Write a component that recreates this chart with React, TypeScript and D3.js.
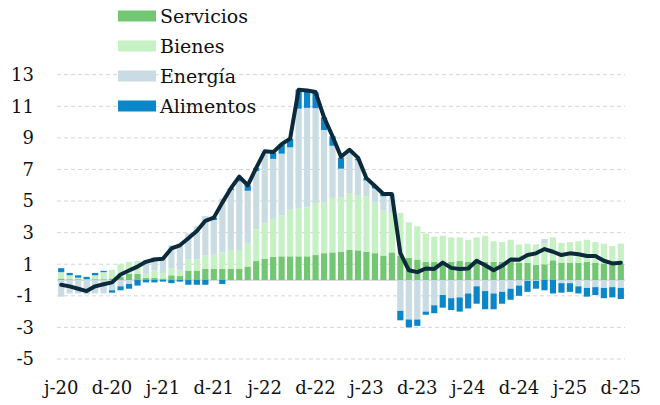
import React from 'react';
import * as d3 from 'd3';

// monthly, jun-2020 .. dic-2025
const keys = ['Servicios', 'Bienes', 'Energía', 'Alimentos'];
const colors = ['#72c772', '#c6f1c4', '#c9dce4', '#0a86c9'];

const servicios = [
  0.1, 0.05, 0.05, 0.0, 0.05, 0.05, 0.1, 0.2, 0.4, 0.4,
  0.15, 0.15, 0.1, 0.3, 0.25, 0.6, 0.6, 0.7, 0.7, 0.7,
  0.7, 0.7, 0.85, 1.2, 1.35, 1.47, 1.5, 1.5, 1.5, 1.5,
  1.58, 1.7, 1.75, 1.8, 1.9, 1.88, 1.8, 1.7, 1.55, 1.75,
  1.55, 1.4, 1.3, 1.15, 1.15, 1.15, 1.15, 1.2, 1.15, 1.25,
  1.15, 1.15, 1.15, 1.15, 1.1, 1.1, 0.95, 1.0, 1.25, 1.1,
  1.1, 1.1, 1.15, 1.1, 1.05, 1.05, 1.05,
];
const bienes = [
  0.4, 0.25, 0.1, 0.05, 0.25, 0.45, 0.55, 0.8, 0.75, 0.75,
  0.25, 0.45, 0.35, 0.45, 0.4, 0.7, 0.7, 0.85, 0.9, 1.05,
  1.2, 1.2, 1.45, 2.0, 2.25, 2.4, 2.6, 2.95, 3.05, 3.1,
  3.3, 3.2, 3.45, 3.45, 3.6, 3.5, 3.5, 3.2, 2.85, 2.5,
  2.7, 2.25, 2.1, 1.8, 1.6, 1.65, 1.55, 1.5, 1.4, 1.45,
  1.65, 1.3, 1.25, 1.4, 1.15, 1.2, 1.3, 1.3, 1.45, 1.25,
  1.3, 1.35, 1.4, 1.3, 1.25, 1.1, 1.25,
];
const energia = [
  -1.05, -0.85, -0.85, -0.9, -0.85, -0.85, -0.65, -0.4, -0.25, 0.05,
  0.9, 0.85, 1.0, 1.45, 1.65, 1.65, 2.1, 2.5, 2.2, 3.4,
  3.8, 4.35, 3.35, 3.7, 4.55, 3.8, 3.9, 3.95, 6.3, 6.3,
  6.0, 4.6, 3.3, 1.8, 2.6, 2.2, 1.0, 0.9, 0.9, 1.2,
  -1.95, -2.5, -2.5, -2.0, -1.6, -0.95, -1.15, -1.1, -0.85, -0.4,
  -0.7, -0.85, -0.75, -0.55, -0.35, -0.05, -0.05, 0.3, 0.0, -0.2,
  -0.2, -0.4, -0.5, -0.45, -0.5, -0.45, -0.5,
];
const alimentos = [
  0.25, 0.15, 0.15, 0.15, 0.15, 0.08, -0.15, -0.25, -0.3, -0.35,
  -0.15, -0.15, -0.1, -0.2, -0.1, -0.3, -0.3, -0.3, 0.15, -0.25,
  0.1, 0.25, 0.35, 0.2, 0.0, 0.4, 0.6, 0.55, 1.2, 1.1,
  1.0, 0.8, 0.6, 0.7, 0.1, 0.1, 0.15, 0.15, 0.15, 0.0,
  -0.6, -0.5, -0.4, -0.2, -0.5, -0.8, -0.75, -0.9, -0.95, -1.1,
  -1.15, -1.0, -0.75, -0.7, -0.65, -0.7, -0.5, -0.65, -0.85, -0.6,
  -0.55, -0.45, -0.55, -0.5, -0.65, -0.65, -0.7,
];
const total = [
  -0.3, -0.4, -0.55, -0.7, -0.4, -0.27, -0.15, 0.35, 0.6, 0.85,
  1.15, 1.3, 1.35, 2.0, 2.2, 2.65, 3.1, 3.75, 3.95, 4.9,
  5.8, 6.55, 6.0, 7.1, 8.15, 8.1, 8.6, 8.95, 12.05, 12.0,
  11.9, 10.3, 9.1, 7.8, 8.25, 7.75, 6.45, 5.95, 5.45, 5.45,
  1.7, 0.62, 0.5, 0.73, 0.7, 1.1, 0.77, 0.7, 0.73, 1.22,
  0.94, 0.62, 0.9, 1.3, 1.28, 1.58, 1.69, 1.96, 1.79, 1.58,
  1.69, 1.63, 1.52, 1.52, 1.22, 1.05, 1.1,
];

const tickLabels = ['j-20', 'd-20', 'j-21', 'd-21', 'j-22', 'd-22', 'j-23', 'd-23', 'j-24', 'd-24', 'j-25', 'd-25'];
const yTicks = [-5, -3, -1, 1, 3, 5, 7, 9, 11, 13];

const W = 660;
const H = 405;
const font = 'DejaVu Serif, serif';

export default function App() {
  const idx = d3.range(total.length);
  const rows = idx.map(i => ({
    Servicios: servicios[i],
    Bienes: bienes[i],
    'Energía': energia[i],
    Alimentos: alimentos[i],
  }));

  const x = d3.scaleBand<number>().domain(idx).range([57, 625]).paddingInner(0.27).paddingOuter(0.13);
  const y = d3.scaleLinear().domain([-5, 13]).range([359, 74.7]);

  const series = d3.stack<any>().keys(keys).offset(d3.stackOffsetDiverging)(rows);

  const cx = (i: number) => (x(i) as number) + x.bandwidth() / 2;
  const line = d3.line<number>().x((d, i) => cx(i)).y(d => y(d));

  return (
    <svg width={W} height={H} style={{ position: 'absolute', left: 0, top: 0, background: '#fff' }}>
      {/* grid */}
      {yTicks.map(t => (
        <line key={t} x1={57} x2={625} y1={y(t)} y2={y(t)} stroke="#d6d6d6" strokeWidth={1} strokeDasharray="4,3" />
      ))}
      <line x1={57} x2={625} y1={y(0)} y2={y(0)} stroke="#d0d0d0" strokeWidth={1.2} />

      {/* y labels */}
      {yTicks.map(t => (
        <text key={t} x={34} y={y(t)} dy="0.35em" textAnchor="end" fontFamily={font} fontSize={18} fill="#111">
          {t}
        </text>
      ))}

      {/* x labels */}
      {tickLabels.map((l, k) => (
        <text key={l} x={cx(k * 6)} y={394} textAnchor="middle" fontFamily={font} fontSize={18} fill="#111">
          {l}
        </text>
      ))}

      {/* bars */}
      {series.map((s, si) => (
        <g key={s.key} fill={colors[si]}>
          {s.map((d, i) => (
            <rect
              key={i}
              x={x(i)}
              width={x.bandwidth()}
              y={y(Math.max(d[0], d[1]))}
              height={Math.abs(y(d[0]) - y(d[1]))}
            />
          ))}
        </g>
      ))}

      {/* total line */}
      <path d={line(total) || ''} fill="none" stroke="#0b2a3c" strokeWidth={4} strokeLinejoin="round" strokeLinecap="round" />

      {/* legend */}
      {keys.map((k, i) => (
        <g key={k} transform={`translate(118, ${16 + i * 30})`}>
          <rect x={0} y={-5.5} width={38} height={11} fill={colors[i]} />
          <text x={42} y={0} dy="0.35em" fontFamily={font} fontSize={19} fill="#111">
            {k}
          </text>
        </g>
      ))}
    </svg>
  );
}
